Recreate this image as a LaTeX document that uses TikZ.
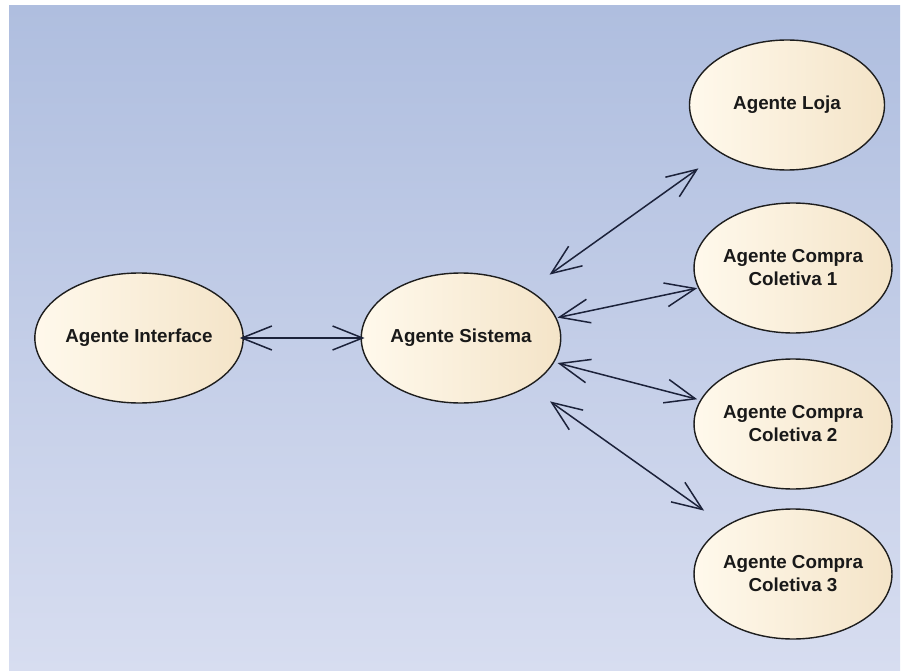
\documentclass[tikz,border=0pt]{standalone}
\usepackage{fontspec}
\setmainfont{Liberation Sans}
\usetikzlibrary{arrows.meta,fit,shapes.geometric}

\definecolor{bgtop}{RGB}{175,190,223}
\definecolor{bgbottom}{RGB}{215,221,240}
\definecolor{agentlight}{RGB}{255,249,236}
\definecolor{agentdark}{RGB}{244,228,200}
\definecolor{agentline}{RGB}{30,30,30}
\definecolor{linkcolor}{RGB}{28,34,58}
\definecolor{labelcolor}{RGB}{25,25,25}

\tikzset{
  agent/.style={ellipse, draw=agentline, line width=1.4pt,
    left color=agentlight, right color=agentdark,
    minimum width=195pt, minimum height=130pt, inner sep=0pt,
    align=center, text=labelcolor,
    font=\bfseries\fontsize{18.8}{23}\selectfont},
  agentbox/.style={rectangle, inner sep=0pt, outer sep=0pt, draw=none},
  tipV/.tip={Straight Barb[length=30pt,width=24pt,line width=1.5pt]},
  link/.style={draw=linkcolor, line width=1.5pt,
    shorten <=-4pt, shorten >=-4pt, tipV-tipV}
}

\begin{document}
\begin{tikzpicture}[x=1pt,y=-1pt]
  \useasboundingbox (0,0) rectangle (910,671);
  % canvas with vertical gradient
  \shade[top color=bgtop, bottom color=bgbottom] (9,6) rectangle (900,671);

  % agents
  \node[agent] (iface) at (139,338) {Agente Interface};
  \node[agent] (sis)   at (461,338) {Agente Sistema};
  \node[agent] (loja)  at (787,105) {Agente Loja};
  \node[agent] (cc1)   at (793,268) {Agente Compra\\Coletiva 1};
  \node[agent] (cc2)   at (793,424) {Agente Compra\\Coletiva 2};
  \node[agent] (cc3)   at (793,574) {Agente Compra\\Coletiva 3};

  % bounding frames used as connector ends
  \node[agentbox, fit=(iface)] (ifaceB) {};
  \node[agentbox, fit=(sis)]   (sisB)   {};
  \node[agentbox, fit=(loja)]  (lojaB)  {};
  \node[agentbox, fit=(cc1)]   (cc1B)   {};
  \node[agentbox, fit=(cc2)]   (cc2B)   {};
  \node[agentbox, fit=(cc3)]   (cc3B)   {};

  % links
  \draw[link] (ifaceB) -- (sisB);
  \draw[link] (sisB) -- (lojaB);
  \draw[link] (sisB) -- (cc1B);
  \draw[link] (sisB) -- (cc2B);
  \draw[link] (sisB) -- (cc3B);
\end{tikzpicture}
\end{document}
